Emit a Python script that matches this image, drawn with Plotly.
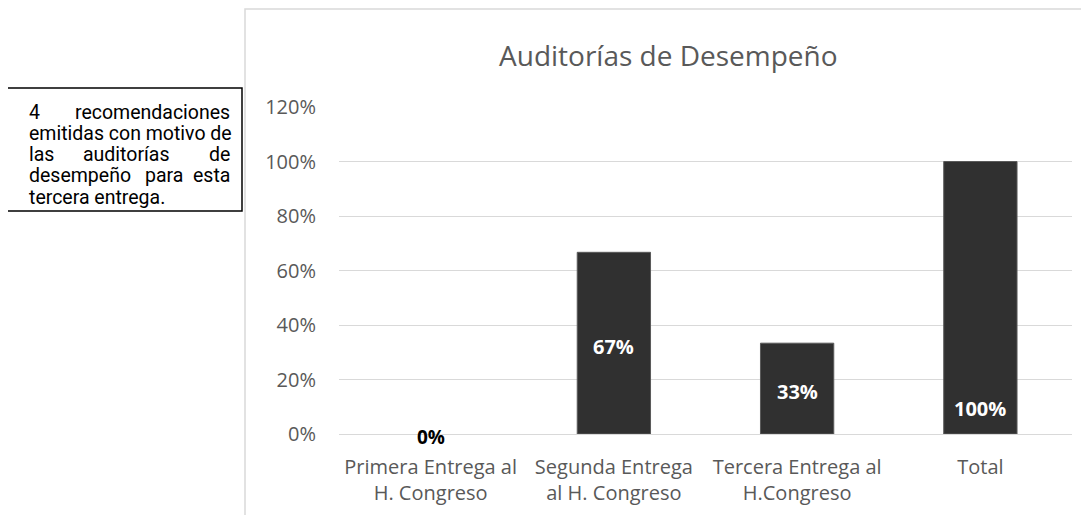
import plotly.graph_objects as go

categories = ["Primera Entrega al<br>H. Congreso", "Segunda Entrega<br>al H. Congreso",
              "Tercera Entrega al<br>H.Congreso", "Total"]
values = [0.0, 0.6667, 0.3333, 1.0]
value_labels = ["0%", "67%", "33%", "100%"]
tick_vals = [0, 0.2, 0.4, 0.6, 0.8, 1.0, 1.2]
tick_text = ["0%", "20%", "40%", "60%", "80%", "100%", "120%"]
title_text = "Auditorías de Desempeño"
note_lines = [["4", "recomendaciones"],
              ["emitidas con motivo de"],
              ["las", "auditorías", "de"],
              ["desempeño", "para", "esta"],
              ["tercera entrega."]]

OFF = 8  # default page body margin
W, H = 1089 - 2 * OFF, 523 - 2 * OFF
PX0, PX1, PY0, PY1 = 339, 1072, 107, 434  # plot area in reference pixels
L, T = PX0 - OFF, PY0 - OFF
R, B = W - (PX1 - OFF), H - (PY1 - OFF)
PW, PH = W - L - R, H - T - B


def px(x):
    return (x - OFF - L) / PW


def py(y):
    return (H - B - (y - OFF)) / PH


FONT = "Open Sans"
GRAY = "#595959"

fig = go.Figure()
fig.add_trace(go.Bar(
    x=categories, y=values,
    marker=dict(color="#303030",
                line=dict(color="#5a5a5a", width=[0 if v == 0 else 1 for v in values])),
    hoverinfo="skip",
))

annotations = []
# data labels (placed like the original)
label_frac = [0.0, 0.32, 0.155, 0.095]
for i, (c, v, t) in enumerate(zip(categories, values, value_labels)):
    annotations.append(dict(
        x=c, y=label_frac[i], xref="x", yref="y", text="<b>%s</b>" % t,
        showarrow=False, yanchor="middle", yshift=-3 if v == 0 else 0,
        font=dict(family=FONT, size=19 if v == 0 else 20,
                  color="black" if v == 0 else "white"),
    ))

annotations.append(dict(
    x=px(668), y=py(55), xref="paper", yref="paper", text=title_text,
    showarrow=False, font=dict(family=FONT, size=28, color=GRAY),
    xanchor="center", yanchor="middle",
))

# justified text box (word anchors emulate full justification)
tx0, tx1 = 27, 232
mid_x = {2: 126, 3: 164}
line_y = [112, 133.3, 154.6, 175.9, 197.2]
for k, (words, yy) in enumerate(zip(note_lines, line_y)):
    n = len(words)
    for j, w in enumerate(words):
        if n == 1:
            xx, anc = tx0, "left"
        elif j == 0:
            xx, anc = tx0, "left"
        elif j == n - 1:
            xx, anc = tx1, "right"
        else:
            xx, anc = mid_x[k], "center"
        annotations.append(dict(
            x=px(xx), y=py(yy), xref="paper", yref="paper", text=w,
            showarrow=False, xanchor=anc, yanchor="middle",
            font=dict(family="Roboto", size=19.5, color="black"),
        ))

shapes = [
    dict(type="rect", xref="paper", yref="paper",
         x0=px(245), x1=px(1200), y0=py(9), y1=py(600),
         line=dict(color="#d9d9d9", width=1.5), layer="below"),
    dict(type="rect", xref="paper", yref="paper",
         x0=px(7), x1=px(242), y0=py(88), y1=py(211),
         line=dict(color="black", width=1.5), fillcolor="white"),
]

fig.update_layout(
    width=W, height=H,
    margin=dict(l=L, r=R, t=T, b=B, autoexpand=False),
    paper_bgcolor="white", plot_bgcolor="white",
    bargap=0.6, showlegend=False,
    annotations=annotations, shapes=shapes,
    font=dict(family=FONT, color=GRAY),
)
fig.update_yaxes(range=[0, 1.2], tickvals=tick_vals, ticktext=tick_text,
                 showgrid=True, gridcolor="#d9d9d9", gridwidth=1,
                 zeroline=True, zerolinecolor="#d9d9d9", zerolinewidth=1,
                 showline=False, ticks="", ticklabelstandoff=22,
                 tickfont=dict(family=FONT, size=20, color=GRAY))
fig.update_xaxes(showline=False, ticks="", showgrid=False,
                 tickfont=dict(family=FONT, size=20, color=GRAY),
                 ticklabelstandoff=19)

fig.write_html("out.html")
